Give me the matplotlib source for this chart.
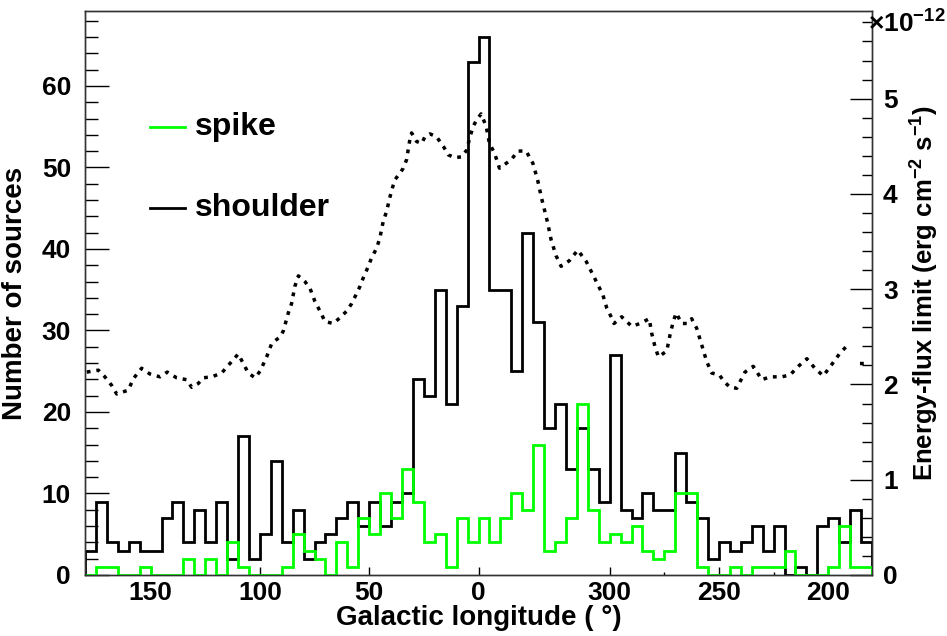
import numpy as np
import matplotlib
matplotlib.use("Agg")
import matplotlib.pyplot as plt
from matplotlib.ticker import FixedLocator, MultipleLocator

plt.rcParams['font.family'] = ['Liberation Sans', 'DejaVu Sans']
plt.rcParams['font.weight'] = 'bold'
plt.rcParams['mathtext.fontset'] = 'custom'
plt.rcParams['mathtext.rm'] = 'Liberation Sans:bold'
plt.rcParams['mathtext.default'] = 'rm'

# ---- data ----
# 5-degree longitude bins, listed left to right (l = 180 ... 0 ... -180 i.e. 360 ... 180)
bin_edges_lon = np.arange(180, -181, -5)
shoulder_counts = [3, 9, 4, 3, 4, 3, 3, 7, 9, 4, 8, 4, 9, 2, 17, 2, 5, 14, 4, 8,
                   2, 4, 5, 7, 9, 6, 9, 6, 9, 10, 24, 22, 35, 21, 33, 63, 66, 35, 35, 25,
                   42, 31, 18, 21, 13, 18, 13, 9, 27, 8, 7, 10, 8, 8, 15, 9, 7, 2, 4, 3,
                   4, 6, 3, 6, 0, 1, 0, 6, 7, 4, 8, 4]
spike_counts = [0, 1, 1, 0, 0, 1, 0, 0, 0, 2, 0, 2, 0, 4, 1, 0, 0, 0, 1, 5,
                3, 2, 0, 4, 1, 7, 5, 10, 7, 13, 9, 4, 5, 1, 7, 4, 7, 4, 7, 10,
                8, 16, 3, 4, 7, 21, 8, 4, 5, 4, 6, 3, 2, 3, 10, 10, 1, 0, 0, 1,
                0, 1, 1, 1, 3, 0, 0, 0, 1, 6, 1, 1]

# energy-flux limit curve (units of 1e-12 erg cm^-2 s^-1)
flux_lon = [179.2, 173.9, 170.9, 167.8, 165.5, 160.2, 157.9, 154.1, 150.3, 145.7,
            142.4, 138.1, 133.5, 131.2, 128.2, 125.9, 122.0, 117.5, 113.7, 109.9,
            107.6, 105.3, 102.2, 99.9, 96.9, 94.6, 90.8, 89.3, 87.0, 85.5,
            84.0, 82.4, 79.4, 77.1, 74.8, 72.5, 70.2, 66.4, 63.4, 60.3,
            58.0, 56.5, 54.2, 52.7, 50.4, 48.9, 46.6, 45.1, 43.6, 42.0,
            40.8, 39.7, 38.2, 35.9, 34.4, 32.9, 31.4, 30.6, 28.3, 26.0,
            24.5, 22.2, 19.2, 16.1, 13.8, 10.8, 7.7, 5.4, 3.9, 2.4,
            0.8, -1.2, -3.5, -5.0, -7.3, -9.6, -15.0, -18.0, -21.8, -24.9,
            -27.1, -28.7, -30.2, -31.7, -33.2, -35.5, -37.8, -41.6, -45.4, -49.3,
            -53.9, -56.9, -58.7, -60.9, -62.0, -65.5, -70.1, -73.9, -78.1, -79.2,
            -80.7, -82.3, -86.1, -87.6, -89.1, -90.4, -93.0, -95.5, -97.5, -99.8,
            -103.2, -104.4, -106.7, -110.2, -112.3, -115.1, -118.1, -121.9, -125.7, -129.6,
            -133.4, -138.7, -142.5, -146.3, -150.2, -153.9, -157.7, -161.6, -165.4, -169.6,
            np.nan, -174.5, -177.6]
flux_limit = [2.13, 2.15, 2.08, 1.99, 1.90, 1.94, 2.06, 2.17, 2.11, 2.08,
              2.13, 2.07, 2.05, 1.97, 2.01, 2.07, 2.08, 2.12, 2.22, 2.32,
              2.22, 2.12, 2.07, 2.14, 2.29, 2.43, 2.50, 2.56, 2.75, 2.85,
              3.03, 3.14, 3.08, 3.01, 2.87, 2.77, 2.66, 2.64, 2.70, 2.77,
              2.85, 2.92, 3.03, 3.12, 3.24, 3.33, 3.43, 3.54, 3.71, 3.82,
              3.94, 4.04, 4.15, 4.22, 4.27, 4.36, 4.57, 4.64, 4.55, 4.53,
              4.60, 4.63, 4.60, 4.50, 4.41, 4.38, 4.39, 4.46, 4.60, 4.71,
              4.78, 4.84, 4.71, 4.53, 4.43, 4.27, 4.36, 4.45, 4.45, 4.32,
              4.14, 3.97, 3.83, 3.69, 3.52, 3.35, 3.24, 3.30, 3.41, 3.29,
              3.08, 2.94, 2.80, 2.70, 2.64, 2.71, 2.61, 2.64, 2.69, 2.54,
              2.40, 2.29, 2.35, 2.52, 2.66, 2.75, 2.64, 2.64, 2.69, 2.59,
              2.33, 2.24, 2.12, 2.10, 2.03, 1.97, 1.96, 2.13, 2.19, 2.05,
              2.08, 2.08, 2.10, 2.19, 2.27, 2.17, 2.09, 2.21, 2.33, 2.43,
              np.nan, 2.22, 2.22]

xtick_pos = [150, 100, 50, 0, -60, -110, -160]
xtick_labels = ['150', '100', '50', '0', '300', '250', '200']
xminor_pos = [-85, -135]

# ---- figure ----
fig = plt.figure(figsize=(9.47, 6.36), dpi=100)
ax = fig.add_axes([85/947, 61/636, 787/947, 564/636])

edges_inc = bin_edges_lon[::-1].astype(float)
ax.stairs(np.array(shoulder_counts[::-1]), edges_inc, baseline=0, color='black', lw=2.0, zorder=3)
ax.stairs(np.array(spike_counts[::-1]), edges_inc, baseline=0, color='#00ff00', lw=2.0, zorder=4)

ax.set_xlim(180, -180)
ax.set_ylim(0, 69.2)

ax.xaxis.set_major_locator(FixedLocator(xtick_pos))
ax.set_xticklabels(xtick_labels)
ax.xaxis.set_minor_locator(FixedLocator(xminor_pos))
ax.yaxis.set_major_locator(MultipleLocator(10))
ax.yaxis.set_minor_locator(MultipleLocator(2))
ax.tick_params(axis='y', which='major', direction='in', length=17, width=1, labelsize=19, pad=10, right=False)
ax.tick_params(axis='y', which='minor', direction='in', length=9, width=1, right=False)
ax.tick_params(axis='x', which='major', direction='in', length=6, width=1, labelsize=19, pad=4, top=False)
ax.tick_params(axis='x', which='minor', direction='in', length=2.5, width=1, top=False)
for lab in ax.get_xticklabels() + ax.get_yticklabels():
    lab.set_fontweight('bold')

ax.set_xlabel('Galactic longitude ( °)', fontsize=20, fontweight='bold', labelpad=0)
ax.set_ylabel('Number of sources', fontsize=20, fontweight='bold', labelpad=10)

ax2 = ax.twinx()
ax2.plot(flux_lon, flux_limit, color='black', lw=2.5, linestyle=(0, (1.1, 1.7)), zorder=2)
ax2.set_ylim(0, 5.92)
ax2.yaxis.set_major_locator(MultipleLocator(1))
ax2.yaxis.set_minor_locator(MultipleLocator(0.2))
ax2.tick_params(axis='y', which='major', direction='in', length=16, width=1, labelsize=19, pad=8)
ax2.tick_params(axis='y', which='minor', direction='in', length=7.5, width=1)
for lab in ax2.get_yticklabels():
    lab.set_fontweight('bold')
ax2.set_ylabel('Energy-flux limit (erg cm$^{-2}$ s$^{-1}$)', fontsize=18.5, fontweight='bold', labelpad=8)

fig.text(868/947, 1 - 24/636, '×10$^{-12}$', fontsize=19, fontweight='bold', ha='left', va='center')

for sp in list(ax.spines.values()) + list(ax2.spines.values()):
    sp.set_linewidth(1.0)
    sp.set_color('#333333')

# legend (manual)
for yy, col, lab in [(0.794, '#00ff00', 'spike'), (0.651, 'black', 'shoulder')]:
    ax.plot([0.0826, 0.127], [yy, yy], transform=ax.transAxes, color=col, lw=2.0, clip_on=False)
    ax.text(0.140, yy, lab, transform=ax.transAxes, fontsize=23, fontweight='bold', va='center', ha='left')

fig.savefig('out.png', dpi=100)
